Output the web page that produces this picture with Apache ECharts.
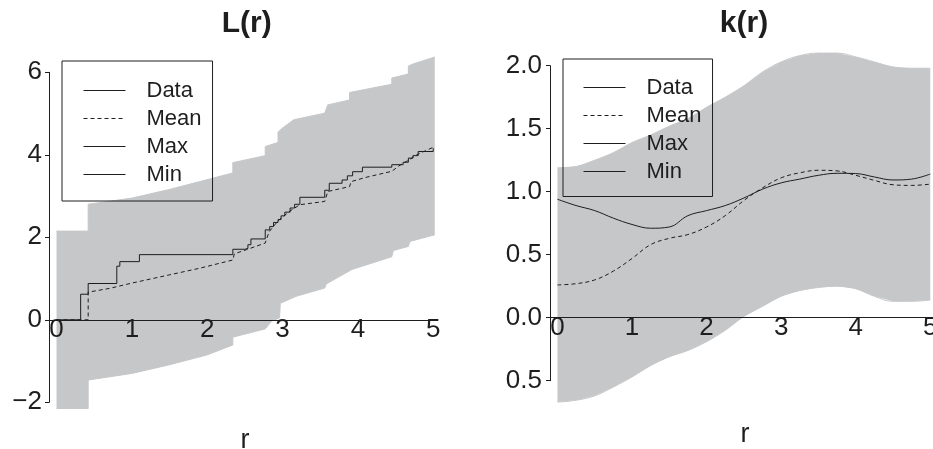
<!DOCTYPE html>
<html>
<head>
<meta charset="utf-8">
<script src="https://cdn.jsdelivr.net/npm/echarts@6/dist/echarts.min.js"></script>
<style>
    html, body { margin: 0; padding: 0; background: #fff; }
    #chart { width: 933px; height: 449px; }
</style>
</head>
<body>
<div id="chart"></div>
<script>
    // L(r) panel. Data is a step function: [r, value] at each jump
    var lData = [[0, 0], [0.32, 0.62], [0.42, 0.88], [0.8, 1.3], [0.84, 1.41], [1.1, 1.58], [2.34, 1.71],
        [2.5, 1.73], [2.54, 1.82], [2.58, 1.96], [2.77, 2.18], [2.83, 2.26], [2.88, 2.36], [2.94, 2.43],
        [2.98, 2.52], [3.03, 2.61], [3.1, 2.71], [3.16, 2.8], [3.23, 2.97], [3.56, 3.14], [3.62, 3.31],
        [3.79, 3.39], [3.86, 3.49], [3.93, 3.59], [4.06, 3.7], [4.45, 3.76], [4.6, 3.82], [4.67, 3.92],
        [4.73, 3.98], [4.8, 4.08], [5.0, 4.16]];
    // mean and envelope as outline points (repeated r = vertical jump)
    var lMean = [[0, 0], [0.42, 0], [0.42, 0.67], [0.7, 0.76], [1.0, 0.89], [1.5, 1.09], [1.9, 1.25], [2.34, 1.45],
        [2.36, 1.6], [2.52, 1.7], [2.77, 1.86], [2.82, 2.13], [2.94, 2.4], [3.1, 2.64], [3.23, 2.79], [3.56, 2.87],
        [3.6, 3.11], [3.89, 3.23], [3.91, 3.35], [4.1, 3.45], [4.45, 3.6], [4.56, 3.75], [4.7, 3.9], [4.8, 4.02],
        [4.9, 4.1], [5.02, 4.2]];
    var lMax = [[0, 2.15], [0.42, 2.15], [0.42, 2.8], [1.0, 2.95], [1.5, 3.16], [1.9, 3.35], [2.34, 3.56],
        [2.34, 3.81], [2.77, 3.98], [2.77, 4.2], [2.94, 4.3], [2.94, 4.55], [3.0, 4.65], [3.15, 4.85], [3.56, 5.01],
        [3.6, 5.21], [3.89, 5.33], [3.89, 5.51], [4.45, 5.71], [4.45, 5.86], [4.67, 5.96], [4.67, 6.15],
        [4.73, 6.2], [5.02, 6.37]];
    var lMin = [[0, -2.15], [0.42, -2.15], [0.42, -1.46], [1.0, -1.3], [1.5, -1.09], [2.0, -0.85], [2.34, -0.61],
        [2.34, -0.42], [2.77, -0.22], [2.85, -0.04], [2.96, 0.05], [2.97, 0.4], [3.18, 0.57], [3.56, 0.77],
        [3.58, 0.87], [3.92, 1.22], [4.45, 1.53], [4.47, 1.68], [4.67, 1.78], [4.69, 1.9], [5.02, 2.06]];

    // k(r) panel, smooth curves sampled every 0.25
    var kR = [0, 0.25, 0.5, 0.75, 1, 1.25, 1.5, 1.75, 2, 2.25, 2.5, 2.75, 3, 3.25, 3.5, 3.75, 4, 4.25, 4.5, 4.75, 5];
    var kData = [0.94, 0.89, 0.85, 0.79, 0.74, 0.71, 0.72, 0.81, 0.85, 0.89, 0.95, 1.02, 1.07, 1.1, 1.13, 1.146, 1.144, 1.117, 1.093, 1.1, 1.14];
    var kMean = [0.26, 0.27, 0.3, 0.37, 0.47, 0.58, 0.63, 0.66, 0.72, 0.81, 0.93, 1.03, 1.11, 1.15, 1.17, 1.165, 1.13, 1.09, 1.055, 1.05, 1.06];
    var kMax = [1.19, 1.2, 1.25, 1.31, 1.39, 1.45, 1.52, 1.58, 1.67, 1.75, 1.84, 1.95, 2.03, 2.08, 2.1, 2.1, 2.07, 2.03, 1.99, 1.98, 1.98];
    var kMin = [-0.67, -0.655, -0.62, -0.55, -0.47, -0.38, -0.31, -0.26, -0.19, -0.1, 0.01, 0.09, 0.17, 0.215, 0.24, 0.25, 0.23, 0.17, 0.13, 0.13, 0.14];

    var xTicks = [0, 1, 2, 3, 4, 5];
    var legendNames = ['Data', 'Mean', 'Max', 'Min'];

    var FONT = '"Liberation Sans", Arial, Helvetica, sans-serif';
    var INK = '#1e1e1e';
    var BAND = '#c6c7c9';
    var DASH = [4, 3];

    function pairs(xs, ys) {
        return xs.map(function (x, i) { return [x, ys[i]]; });
    }

    function bandSeries(upper, lower, idx) {
        return {
            type: 'custom', xAxisIndex: idx, yAxisIndex: idx, z: 1, silent: true, clip: false,
            data: [0],
            renderItem: function (params, api) {
                var ring = upper.concat(lower.slice().reverse()).map(function (p) { return api.coord(p); });
                return {type: 'polygon', shape: {points: ring}, style: {fill: BAND}};
            }
        };
    }

    function lineSeries(name, data, idx, opts) {
        var s = {
            name: name, type: 'line', xAxisIndex: idx, yAxisIndex: idx, data: data,
            symbol: 'none', showSymbol: false, clip: false, z: 3,
            lineStyle: {color: INK, width: 1},
            itemStyle: {color: INK}
        };
        return Object.assign(s, opts || {});
    }

    function legendFor(left, top, padding) {
        return {
            left: left, top: top, orient: 'vertical', padding: padding, itemGap: 6,
            itemWidth: 42, itemHeight: 14, selectedMode: false,
            borderColor: INK, borderWidth: 1,
            itemStyle: {opacity: 0},
            textStyle: {fontFamily: FONT, fontSize: 22, color: INK, lineHeight: 22, padding: [0, 0, 0, 16]},
            // every legend line drawn black and 1px, the mean dashed
            data: legendNames.map(function (n) {
                return {
                    name: n,
                    lineStyle: {color: INK, width: 1, opacity: 1, type: n === 'Mean' ? DASH : 'solid'}
                };
            })
        };
    }

    // x axis sits on y = 0: shift it up from the grid bottom by that distance
    function xAxisFor(idx, lift) {
        return {
            type: 'value', gridIndex: idx, min: -0.1, max: 5.05, z: 10,
            offset: -lift,
            axisLine: {onZero: false, lineStyle: {color: INK, width: 1}},
            axisTick: {show: false},
            splitLine: {show: false},
            axisLabel: {
                customValues: xTicks, margin: -3, fontFamily: FONT, fontSize: 26, color: INK
            }
        };
    }

    var myChart = echarts.init(document.getElementById('chart'));

    var option = {
        animation: false,
        backgroundColor: '#fff',
        grid: [
            {left: 49, top: 72.3, width: 388, height: 330, outerBoundsMode: 'none'},
            {left: 550, top: 65.7, width: 384, height: 315, outerBoundsMode: 'none'}
        ],
        xAxis: [xAxisFor(0, 330 * 2 / 8), xAxisFor(1, 315 * 0.5 / 2.5)],
        yAxis: [
            {
                type: 'value', gridIndex: 0, min: -2, max: 6, interval: 2, z: 10,
                axisLine: {show: true, onZero: false, lineStyle: {color: INK, width: 1}},
                axisTick: {show: true, length: 4, lineStyle: {color: INK}},
                splitLine: {show: false},
                axisLabel: {
                    margin: 7, fontFamily: FONT, fontSize: 26, color: INK,
                    formatter: function (v) { return v < 0 ? '\u2212' + Math.abs(v) : String(v); }
                }
            },
            {
                type: 'value', gridIndex: 1, min: -0.5, max: 2, interval: 0.5, z: 10,
                axisLine: {show: true, onZero: false, lineStyle: {color: INK, width: 1}},
                axisTick: {show: true, length: 4, lineStyle: {color: INK}},
                splitLine: {show: false},
                axisLabel: {
                    margin: 8, fontFamily: FONT, fontSize: 26, color: INK,
                    // the bottom label reads "0.5" in the original, without its minus sign
                    formatter: function (v) { return Math.abs(v).toFixed(1); }
                }
            }
        ],
        legend: [
            legendFor(62, 61, [18.5, 11, 15.5, 21]),
            legendFor(563, 59, [17.5, 11, 14, 20])
        ],
        graphic: [
            {type: 'text', x: 246.7, y: 24, style: {text: 'L(r)', font: 'bold 30px ' + FONT, fill: INK, align: 'center', verticalAlign: 'middle'}},
            {type: 'text', x: 744, y: 24, style: {text: 'k(r)', font: 'bold 30px ' + FONT, fill: INK, align: 'center', verticalAlign: 'middle'}},
            {type: 'text', x: 245, y: 441, style: {text: 'r', font: '27px ' + FONT, fill: INK, align: 'center', verticalAlign: 'middle'}},
            {type: 'text', x: 745, y: 434.5, style: {text: 'r', font: '27px ' + FONT, fill: INK, align: 'center', verticalAlign: 'middle'}}
        ],
        series: [
            bandSeries(lMax, lMin, 0),
            lineSeries('Max', lMax, 0, {z: 2, lineStyle: {color: BAND, width: 1}}),
            lineSeries('Min', lMin, 0, {z: 2, lineStyle: {color: BAND, width: 1}}),
            lineSeries('Mean', lMean, 0, {lineStyle: {color: INK, width: 1, type: DASH}}),
            lineSeries('Data', lData, 0, {step: 'end'}),

            bandSeries(pairs(kR, kMax), pairs(kR, kMin), 1),
            lineSeries('Max', pairs(kR, kMax), 1, {smooth: 0.4, z: 2, lineStyle: {color: BAND, width: 1}}),
            lineSeries('Min', pairs(kR, kMin), 1, {smooth: 0.4, z: 2, lineStyle: {color: BAND, width: 1}}),
            lineSeries('Mean', pairs(kR, kMean), 1, {smooth: 0.4, lineStyle: {color: INK, width: 1, type: DASH}}),
            lineSeries('Data', pairs(kR, kData), 1, {smooth: 0.4})
        ]
    };

    myChart.setOption(option);
</script>
</body>
</html>
